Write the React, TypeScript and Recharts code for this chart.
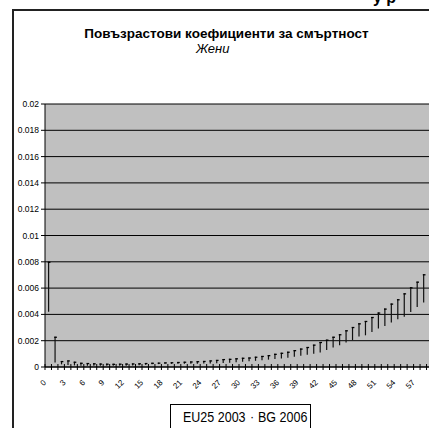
import { Bar, CartesianGrid, ComposedChart, Line, XAxis, YAxis } from 'recharts'

// възраст (години)
const ages = [
  0, 1, 2, 3, 4, 5, 6, 7, 8, 9, 10, 11, 12, 13, 14, 15, 16, 17, 18, 19,
  20, 21, 22, 23, 24, 25, 26, 27, 28, 29, 30, 31, 32, 33, 34, 35, 36, 37, 38, 39,
  40, 41, 42, 43, 44, 45, 46, 47, 48, 49, 50, 51, 52, 53, 54, 55, 56, 57, 58, 59
]

const eu2003 = [
  0.0042, 0.00035, 0.0002, 0.00015, 0.00012, 0.0001, 0.0001, 0.00009, 0.00009, 0.00009,
  0.0001, 0.0001, 0.0001, 0.00012, 0.00014, 0.00017, 0.0002, 0.00022, 0.00024, 0.00024,
  0.00024, 0.00024, 0.00024, 0.00025, 0.00026, 0.00027, 0.00029, 0.00031, 0.00033, 0.00036,
  0.00039, 0.00043, 0.00047, 0.00051, 0.00056, 0.0006, 0.00065, 0.00071, 0.00078, 0.00085,
  0.00093, 0.001, 0.0011, 0.0013, 0.00148, 0.00165, 0.00186, 0.00205, 0.00231, 0.00241,
  0.00266, 0.00292, 0.00312, 0.00338, 0.00363, 0.00383, 0.00418, 0.00456, 0.0049, 0.0053
]

const bg2006 = [
  0.008, 0.0023, 0.00045, 0.0005, 0.0004, 0.00032, 0.0003, 0.00028, 0.00026, 0.00025,
  0.00024, 0.00025, 0.00026, 0.00027, 0.00028, 0.0003, 0.00032, 0.00033, 0.00035, 0.00036,
  0.00038, 0.0004, 0.00042, 0.00044, 0.00046, 0.0005, 0.00054, 0.0006, 0.00062, 0.00066,
  0.0007, 0.00072, 0.00078, 0.00084, 0.0009, 0.001, 0.00108, 0.00116, 0.00128, 0.0014,
  0.00152, 0.0017, 0.0019, 0.00208, 0.0023, 0.00249, 0.00279, 0.00304, 0.00332, 0.0035,
  0.0038, 0.00414, 0.00444, 0.00482, 0.00515, 0.0056, 0.00606, 0.00649, 0.00705, 0.0075
]

const yTicks = [0, 0.002, 0.004, 0.006, 0.008, 0.01, 0.012, 0.014, 0.016, 0.018, 0.02]
const yTickLabels = ['0', '0.002', '0.004', '0.006', '0.008', '0.01', '0.012', '0.014', '0.016', '0.018', '0.02']
const xTickLabels = ['0', '3', '6', '9', '12', '15', '18', '21', '24', '27', '30', '33', '36', '39', '42', '45', '48', '51', '54', '57']

const data = ages.map((age, i) => ({ age: String(age), eu: eu2003[i], bg: bg2006[i] }))

const CHART_W = 440
const CHART_H = 428
const PLOT_LEFT = 45
const PLOT_RIGHT = 433
const PLOT_TOP = 104
const PLOT_BOTTOM = 367
const X_AXIS_H = 2
const BAND = (PLOT_RIGHT - PLOT_LEFT) / ages.length
const FONT = '"Liberation Sans", Arial, sans-serif'

function AgeTick (props: any) {
  const { x, y, payload } = props
  const label = String(payload.value)
  const show = xTickLabels.includes(label)
  const bx = x - BAND / 2
  const lx = x - 1.5
  const ly = y + 16
  return (
    <g>
      <line x1={bx} x2={bx} y1={y - 3} y2={y + 3} stroke='#000' strokeWidth={1} />
      {show && (
        <text
          x={lx}
          y={ly}
          transform={`rotate(-45 ${lx} ${ly})`}
          textAnchor='end'
          fontSize={8}
          fontFamily={FONT}
          fill='#000'
        >
          {label}
        </text>
      )}
    </g>
  )
}

function BgMark (props: any) {
  const { cx, cy, index } = props
  if (cx == null || cy == null) return <g key={'m' + index} />
  return <path key={'m' + index} d={`M${cx - 0.5},${cy + 0.5}H${cx + 2.2}`} stroke='#000' strokeWidth={1.3} />
}

export default function App () {
  return (
    <div style={{ position: 'absolute', left: 0, top: 0, width: 429, height: 428, overflow: 'hidden', background: '#fff' }}>
      <svg width={429} height={428} style={{ position: 'absolute', left: 0, top: 0 }}>
        <text x={373} y={3} fontSize={16} fontWeight='bold' fontFamily={FONT} fill='#000'>у р</text>
        <text x={226.5} y={38.3} textAnchor='middle' fontSize={13.5} fontWeight='bold' fontFamily={FONT} fill='#000'>
          Повъзрастови коефициенти за смъртност
        </text>
        <text x={212.7} y={52.7} textAnchor='middle' fontSize={13} fontStyle='italic' fontFamily={FONT} fill='#000'>
          Жени
        </text>
      </svg>
      <div style={{ position: 'absolute', left: 0, top: 0 }}>
        <ComposedChart
          width={CHART_W}
          height={CHART_H}
          data={data}
          margin={{ top: PLOT_TOP, right: CHART_W - PLOT_RIGHT, left: 0, bottom: CHART_H - PLOT_BOTTOM - X_AXIS_H }}
          barCategoryGap={0}
        >
          <CartesianGrid vertical={false} stroke='#000' fill='#c0c0c0' fillOpacity={1} />
          <XAxis
            dataKey='age'
            type='category'
            height={X_AXIS_H}
            interval={0}
            tickSize={0}
            tickMargin={0}
            tickLine={false}
            axisLine={{ stroke: '#000' }}
            tick={<AgeTick />}
          />
          <YAxis
            width={PLOT_LEFT}
            domain={[0, 0.02]}
            ticks={yTicks}
            interval={0}
            tickSize={4}
            tickMargin={2}
            tickLine={{ stroke: '#000' }}
            axisLine={{ stroke: '#000' }}
            tickFormatter={(v: number) => yTickLabels[yTicks.indexOf(v)] ?? String(v)}
            tick={{ fontSize: 8.5, fill: '#000', fontFamily: FONT }}
          />
          <Bar dataKey={(d: any) => [d.eu, d.bg]} barSize={1.2} fill='#111' isAnimationActive={false} />
          <Line dataKey='eu' stroke='none' dot={false} activeDot={false} isAnimationActive={false} />
          <Line dataKey='bg' stroke='none' dot={<BgMark />} activeDot={false} isAnimationActive={false} />
        </ComposedChart>
      </div>
      <div style={{ position: 'absolute', left: 12, top: 9, width: 440, height: 440, borderLeft: '2px solid #222', borderTop: '2px solid #222' }} />
      <div
        style={{
          position: 'absolute', left: 170, top: 404, width: 139, height: 40,
          border: '1px solid #000', background: '#fff', fontFamily: FONT, fontSize: 12.5,
          color: '#000', lineHeight: '22px', whiteSpace: 'pre'
        }}
      >
        <span style={{ position: 'absolute', left: 12, top: 1, transform: 'scaleY(1.2)' }}>EU25 2003</span>
        <span style={{ position: 'absolute', left: 79, top: 1 }}>·</span>
        <span style={{ position: 'absolute', left: 87, top: 1, transform: 'scaleY(1.2)' }}>BG 2006</span>
      </div>
    </div>
  )
}
